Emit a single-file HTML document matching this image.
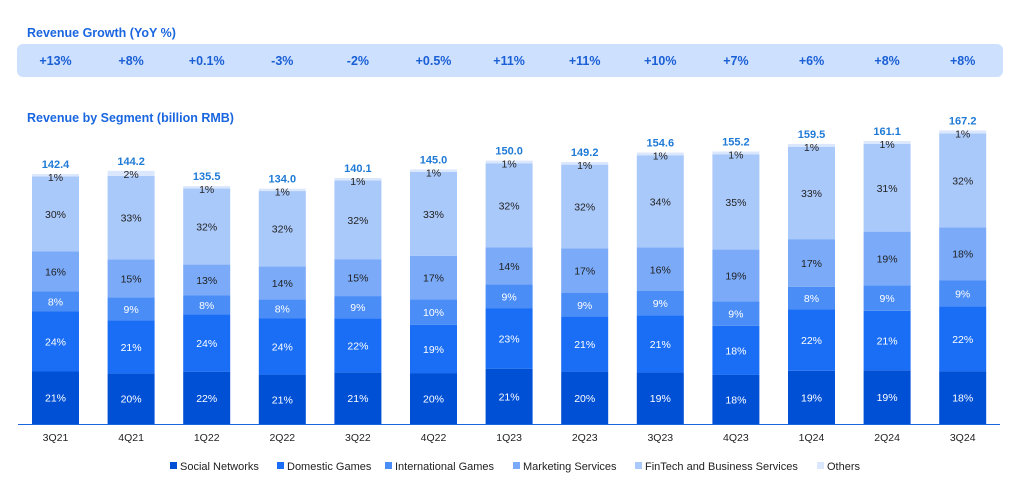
<!DOCTYPE html>
<html><head><meta charset="utf-8"><style>
body{margin:0;background:#fff;width:1024px;height:490px;overflow:hidden;font-family:"Liberation Sans",Arial,sans-serif}
</style></head><body>
<svg id="s" width="1024" height="490" xmlns="http://www.w3.org/2000/svg" font-family="Liberation Sans, Arial, sans-serif">
<text x="27" y="37" font-size="12.5" font-weight="bold" fill="#1a66e0">Revenue Growth (YoY %)</text>
<rect x="17" y="44" width="986" height="33" rx="6" fill="#cde0fd"/>
<text x="27" y="122" font-size="12.5" font-weight="bold" fill="#1a66e0">Revenue by Segment (billion RMB)</text>
<line x1="18" y1="424.5" x2="1000" y2="424.5" stroke="#1a66e0" stroke-width="1"/>
<g id="g"></g>
<g font-size="11" fill="#222">
<rect x="170" y="462" width="7" height="7" fill="#0050d6"/><text x="180" y="470">Social Networks</text>
<rect x="277" y="462" width="7" height="7" fill="#1a6ef5"/><text x="287" y="470">Domestic Games</text>
<rect x="385" y="462" width="7" height="7" fill="#4a8df7"/><text x="395" y="470">International Games</text>
<rect x="513" y="462" width="7" height="7" fill="#7aaaf8"/><text x="523" y="470">Marketing Services</text>
<rect x="635" y="462" width="7" height="7" fill="#aac9fb"/><text x="645" y="470">FinTech and Business Services</text>
<rect x="817" y="462" width="7" height="7" fill="#dbe7fd"/><text x="827" y="470">Others</text>
</g>
</svg>
<script>
var q=["3Q21","4Q21","1Q22","2Q22","3Q22","4Q22","1Q23","2Q23","3Q23","4Q23","1Q24","2Q24","3Q24"];
var yoy=["+13%","+8%","+0.1%","-3%","-2%","+0.5%","+11%","+11%","+10%","+7%","+6%","+8%","+8%"];
var tot=[142.4,144.2,135.5,134.0,140.1,145.0,150.0,149.2,154.6,155.2,159.5,161.1,167.2];
var p=[[21,24,8,16,30,1],[20,21,9,15,33,2],[22,24,8,13,32,1],[21,24,8,14,32,1],[21,22,9,15,32,1],[20,19,10,17,33,1],[21,23,9,14,32,1],[20,21,9,17,32,1],[19,21,9,16,34,1],[18,18,9,19,35,1],[19,22,8,17,33,1],[19,21,9,19,31,1],[18,22,9,18,32,1]];
var col=["#0050d6","#1a6ef5","#4a8df7","#7aaaf8","#aac9fb","#dbe7fd"];
var tc=["#fff","#fff","#fff","#222","#222","#222"];
var h="",base=424,sc=1.756;
for(var i=0;i<13;i++){
 var cx=55.5+i*75.6,H=tot[i]*sc,sum=p[i].reduce((a,b)=>a+b,0),y=base;
 for(var k=0;k<6;k++){
  var hh=H*p[i][k]/sum;
  h+='<rect x="'+(cx-23.5)+'" y="'+(y-hh)+'" width="47" height="'+hh+'" fill="'+col[k]+'"/>';
  var ty=k==5?(y-hh+7):(y-hh/2+4);
  h+='<text x="'+cx+'" y="'+ty+'" font-size="10.5" text-anchor="middle" fill="'+tc[k]+'">'+p[i][k]+'%</text>';
  y-=hh;
 }
 h+='<text x="'+cx+'" y="'+(base-H-6)+'" font-size="11" font-weight="bold" text-anchor="middle" fill="#1f7ad6">'+tot[i].toFixed(1)+'</text>';
 h+='<text x="'+cx+'" y="441" font-size="10.5" text-anchor="middle" fill="#222">'+q[i]+'</text>';
 h+='<text x="'+cx+'" y="65" font-size="12.5" font-weight="bold" text-anchor="middle" fill="#1a5fd6">'+yoy[i]+'</text>';
}
document.getElementById("g").innerHTML=h;
</script>
</body></html>
